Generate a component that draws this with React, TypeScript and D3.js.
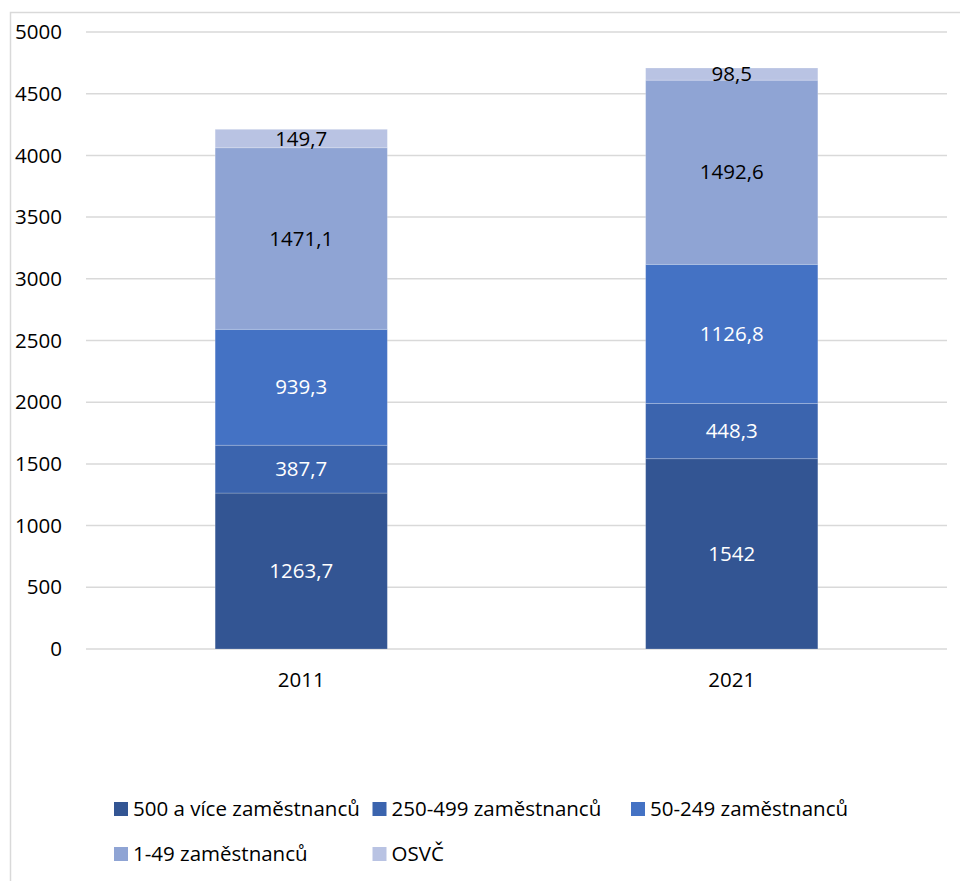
import React from "react";
import * as d3 from "d3";

const categories = ["2011", "2021"];
const seriesNames = ["500 a více zaměstnanců", "250-499 zaměstnanců", "50-249 zaměstnanců", "1-49 zaměstnanců", "OSVČ"];
const s500 = [1263.7, 1542];
const s250 = [387.7, 448.3];
const s50 = [939.3, 1126.8];
const s1 = [1471.1, 1492.6];
const sOsvc = [149.7, 98.5];
const yTicks = [0, 500, 1000, 1500, 2000, 2500, 3000, 3500, 4000, 4500, 5000];

const seriesValues = [s500, s250, s50, s1, sOsvc];
const colors = ["#335593", "#3b64ae", "#4472c4", "#8fa4d4", "#b9c3e3"];
const labelColors = ["#ffffff", "#ffffff", "#ffffff", "#000000", "#000000"];

const FONT = "'Open Sans', 'Noto Sans', sans-serif";

export default function App() {
  const W = 960, H = 881;
  const x = d3.scaleBand<string>().domain(categories).range([86, 947]).paddingInner(0.6).paddingOuter(0.3);
  const y = d3.scaleLinear().domain([0, 5000]).range([649, 32]);

  const rows = categories.map((c, i) => {
    const o: any = { cat: c };
    seriesNames.forEach((s, k) => (o[s] = seriesValues[k][i]));
    return o;
  });
  const stacked = d3.stack<any>().keys(seriesNames)(rows);

  const fmt = (v: number) => String(v).replace(".", ",");

  const legendItems = seriesNames.map((s, k) => ({
    name: s,
    col: k % 3,
    row: Math.floor(k / 3),
  }));

  return (
    <svg width={W} height={H} style={{ position: "absolute", left: 0, top: 0, background: "#fff" }}>
      <rect x={10.5} y={12.5} width={1200} height={1200} fill="#fff" stroke="#d9d9d9" strokeWidth={1.5} />
      {yTicks.map((t) => (
        <g key={t}>
          <line x1={86} x2={947} y1={y(t)} y2={y(t)} stroke="#d9d9d9" strokeWidth={1.5} />
          <text x={62} y={y(t)} dy="0.35em" textAnchor="end" fontFamily={FONT} fontSize={20.5} fill="#000">
            {t}
          </text>
        </g>
      ))}
      {stacked.map((layer, k) => (
        <g key={layer.key}>
          {layer.map((d, i) => (
            <g key={i}>
              <rect
                x={x(categories[i])!}
                width={x.bandwidth()}
                y={y(d[1])}
                height={y(d[0]) - y(d[1])}
                fill={colors[k]}
                stroke="#fff"
                strokeOpacity={0.25}
                strokeWidth={0.8}
              />
              <text
                x={x(categories[i])! + x.bandwidth() / 2}
                y={(y(d[0]) + y(d[1])) / 2}
                dy="0.35em"
                textAnchor="middle"
                fontFamily={FONT}
                fontSize={20.5}
                fill={labelColors[k]}
              >
                {fmt(seriesValues[k][i])}
              </text>
            </g>
          ))}
        </g>
      ))}
      {categories.map((c) => (
        <text key={c} x={x(c)! + x.bandwidth() / 2} y={680} dy="0.35em" textAnchor="middle" fontFamily={FONT} fontSize={20.5} fill="#000">
          {c}
        </text>
      ))}
      {legendItems.map((it, k) => {
        const lx = 114 + it.col * 258.5;
        const ly = 809 + it.row * 45;
        return (
          <g key={it.name}>
            <rect x={lx} y={ly - 7} width={14} height={14} fill={colors[k]} />
            <text x={lx + 19} y={ly} dy="0.35em" fontFamily={FONT} fontSize={20.5} fill="#000">
              {it.name}
            </text>
          </g>
        );
      })}
    </svg>
  );
}
